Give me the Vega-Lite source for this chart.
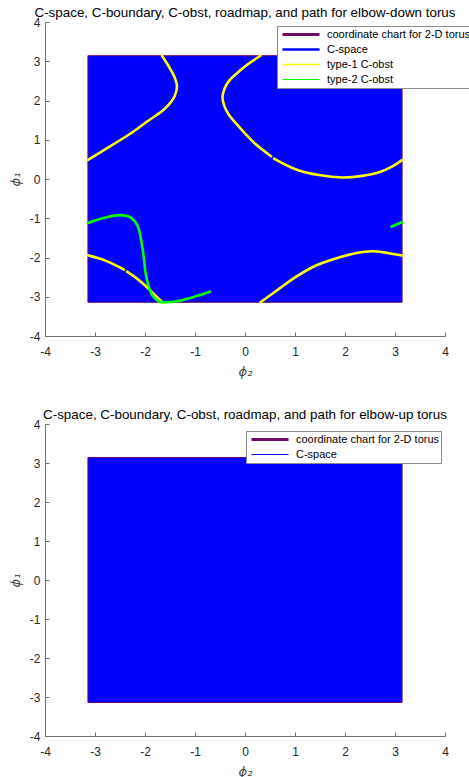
{
  "$schema": "https://vega.github.io/schema/vega-lite/v6.json",
  "padding": {"left": 9, "top": 5, "right": 0, "bottom": 0},
  "datasets": {
    "box": [
      {"series": "C-space", "x1": -3.1416, "x2": 3.1416, "y1": -3.1416, "y2": 3.1416},
      {"series": "coordinate chart for 2-D torus", "x1": -3.1416, "x2": 3.1416, "y1": -3.1416, "y2": 3.1416}
    ],
    "curves": [
      {"series": "type-1 C-obst", "seg": "A", "i": 0, "phi2": -1.66, "phi1": 3.14},
      {"series": "type-1 C-obst", "seg": "A", "i": 1, "phi2": -1.52, "phi1": 2.86},
      {"series": "type-1 C-obst", "seg": "A", "i": 2, "phi2": -1.41, "phi1": 2.6},
      {"series": "type-1 C-obst", "seg": "A", "i": 3, "phi2": -1.36, "phi1": 2.37},
      {"series": "type-1 C-obst", "seg": "A", "i": 4, "phi2": -1.41, "phi1": 2.1},
      {"series": "type-1 C-obst", "seg": "A", "i": 5, "phi2": -1.52, "phi1": 1.9},
      {"series": "type-1 C-obst", "seg": "A", "i": 6, "phi2": -1.65, "phi1": 1.74},
      {"series": "type-1 C-obst", "seg": "A", "i": 7, "phi2": -1.95, "phi1": 1.47},
      {"series": "type-1 C-obst", "seg": "A", "i": 8, "phi2": -2.25, "phi1": 1.19},
      {"series": "type-1 C-obst", "seg": "A", "i": 9, "phi2": -2.7, "phi1": 0.83},
      {"series": "type-1 C-obst", "seg": "A", "i": 10, "phi2": -3.14, "phi1": 0.49},
      {"series": "type-1 C-obst", "seg": "B1", "i": 0, "phi2": 0.31, "phi1": 3.14},
      {"series": "type-1 C-obst", "seg": "B1", "i": 1, "phi2": 0.01, "phi1": 2.88},
      {"series": "type-1 C-obst", "seg": "B1", "i": 2, "phi2": -0.12, "phi1": 2.74},
      {"series": "type-1 C-obst", "seg": "B1", "i": 3, "phi2": -0.32, "phi1": 2.5},
      {"series": "type-1 C-obst", "seg": "B1", "i": 4, "phi2": -0.41, "phi1": 2.3},
      {"series": "type-1 C-obst", "seg": "B1", "i": 5, "phi2": -0.45, "phi1": 2.08},
      {"series": "type-1 C-obst", "seg": "B1", "i": 6, "phi2": -0.41, "phi1": 1.85},
      {"series": "type-1 C-obst", "seg": "B1", "i": 7, "phi2": -0.32, "phi1": 1.63},
      {"series": "type-1 C-obst", "seg": "B1", "i": 8, "phi2": -0.18, "phi1": 1.42},
      {"series": "type-1 C-obst", "seg": "B1", "i": 9, "phi2": -0.05, "phi1": 1.23},
      {"series": "type-1 C-obst", "seg": "B1", "i": 10, "phi2": 0.21, "phi1": 0.89},
      {"series": "type-1 C-obst", "seg": "B1", "i": 11, "phi2": 0.52, "phi1": 0.58},
      {"series": "type-1 C-obst", "seg": "B2", "i": 0, "phi2": 0.58, "phi1": 0.52},
      {"series": "type-1 C-obst", "seg": "B2", "i": 1, "phi2": 1.01, "phi1": 0.25},
      {"series": "type-1 C-obst", "seg": "B2", "i": 2, "phi2": 1.48, "phi1": 0.1},
      {"series": "type-1 C-obst", "seg": "B2", "i": 3, "phi2": 1.95, "phi1": 0.04},
      {"series": "type-1 C-obst", "seg": "B2", "i": 4, "phi2": 2.35, "phi1": 0.08},
      {"series": "type-1 C-obst", "seg": "B2", "i": 5, "phi2": 2.68, "phi1": 0.17},
      {"series": "type-1 C-obst", "seg": "B2", "i": 6, "phi2": 2.95, "phi1": 0.32},
      {"series": "type-1 C-obst", "seg": "B2", "i": 7, "phi2": 3.14, "phi1": 0.48},
      {"series": "type-1 C-obst", "seg": "C1", "i": 0, "phi2": -3.14, "phi1": -1.94},
      {"series": "type-1 C-obst", "seg": "C1", "i": 1, "phi2": -2.79, "phi1": -2.08},
      {"series": "type-1 C-obst", "seg": "C1", "i": 2, "phi2": -2.55, "phi1": -2.22},
      {"series": "type-1 C-obst", "seg": "C1", "i": 3, "phi2": -2.42, "phi1": -2.31},
      {"series": "type-1 C-obst", "seg": "C2", "i": 0, "phi2": -2.36, "phi1": -2.36},
      {"series": "type-1 C-obst", "seg": "C2", "i": 1, "phi2": -2.2, "phi1": -2.5},
      {"series": "type-1 C-obst", "seg": "C2", "i": 2, "phi2": -1.99, "phi1": -2.72},
      {"series": "type-1 C-obst", "seg": "C2", "i": 3, "phi2": -1.79, "phi1": -2.97},
      {"series": "type-1 C-obst", "seg": "C2", "i": 4, "phi2": -1.65, "phi1": -3.14},
      {"series": "type-1 C-obst", "seg": "D", "i": 0, "phi2": 0.31, "phi1": -3.14},
      {"series": "type-1 C-obst", "seg": "D", "i": 1, "phi2": 0.68, "phi1": -2.8},
      {"series": "type-1 C-obst", "seg": "D", "i": 2, "phi2": 1.01, "phi1": -2.5},
      {"series": "type-1 C-obst", "seg": "D", "i": 3, "phi2": 1.41, "phi1": -2.21},
      {"series": "type-1 C-obst", "seg": "D", "i": 4, "phi2": 1.88, "phi1": -2.0},
      {"series": "type-1 C-obst", "seg": "D", "i": 5, "phi2": 2.21, "phi1": -1.89},
      {"series": "type-1 C-obst", "seg": "D", "i": 6, "phi2": 2.55, "phi1": -1.84},
      {"series": "type-1 C-obst", "seg": "D", "i": 7, "phi2": 2.88, "phi1": -1.89},
      {"series": "type-1 C-obst", "seg": "D", "i": 8, "phi2": 3.14, "phi1": -1.95},
      {"series": "type-2 C-obst", "seg": "E", "i": 0, "phi2": -3.14, "phi1": -1.12},
      {"series": "type-2 C-obst", "seg": "E", "i": 1, "phi2": -2.79, "phi1": -0.98},
      {"series": "type-2 C-obst", "seg": "E", "i": 2, "phi2": -2.49, "phi1": -0.92},
      {"series": "type-2 C-obst", "seg": "E", "i": 3, "phi2": -2.29, "phi1": -0.98},
      {"series": "type-2 C-obst", "seg": "E", "i": 4, "phi2": -2.15, "phi1": -1.19},
      {"series": "type-2 C-obst", "seg": "E", "i": 5, "phi2": -2.07, "phi1": -1.61},
      {"series": "type-2 C-obst", "seg": "E", "i": 6, "phi2": -2.02, "phi1": -2.04},
      {"series": "type-2 C-obst", "seg": "E", "i": 7, "phi2": -1.99, "phi1": -2.38},
      {"series": "type-2 C-obst", "seg": "E", "i": 8, "phi2": -1.93, "phi1": -2.72},
      {"series": "type-2 C-obst", "seg": "E", "i": 9, "phi2": -1.85, "phi1": -2.97},
      {"series": "type-2 C-obst", "seg": "E", "i": 10, "phi2": -1.72, "phi1": -3.12},
      {"series": "type-2 C-obst", "seg": "E", "i": 11, "phi2": -1.59, "phi1": -3.14},
      {"series": "type-2 C-obst", "seg": "E", "i": 12, "phi2": -1.32, "phi1": -3.1},
      {"series": "type-2 C-obst", "seg": "E", "i": 13, "phi2": -0.99, "phi1": -2.99},
      {"series": "type-2 C-obst", "seg": "E", "i": 14, "phi2": -0.7, "phi1": -2.87},
      {"series": "type-2 C-obst", "seg": "F", "i": 0, "phi2": 2.93, "phi1": -1.21},
      {"series": "type-2 C-obst", "seg": "F", "i": 1, "phi2": 3.14, "phi1": -1.1}
    ]
  },
  "vconcat": [
    {
      "title": "C-space, C-boundary, C-obst, roadmap, and path for elbow-down torus",
      "width": 400,
      "height": 314,
      "layer": [
        {
          "data": {"name": "box"},
          "transform": [{"filter": "datum.series === 'C-space'"}],
          "mark": {"type": "rect", "stroke": null},
          "encoding": {
            "x": {"field": "x1", "type": "quantitative", "scale": {"domain": [-4, 4], "nice": false, "zero": false}, "axis": {"values": [-4, -3, -2, -1, 0, 1, 2, 3, 4], "labelOverlap": false, "labelExpr": "'' + datum.value", "title": "ϕ₂"}},
            "x2": {"field": "x2"},
            "y": {"field": "y1", "type": "quantitative", "scale": {"domain": [-4, 4], "nice": false, "zero": false}, "axis": {"values": [-4, -3, -2, -1, 0, 1, 2, 3, 4], "labelOverlap": false, "labelExpr": "'' + datum.value", "title": "ϕ₁"}},
            "y2": {"field": "y2"},
            "color": {
              "field": "series", "type": "nominal",
              "scale": {"domain": ["coordinate chart for 2-D torus", "C-space", "type-1 C-obst", "type-2 C-obst"], "range": ["#700868", "#0000ff", "#ffff00", "#00ff00"]},
              "legend": {"orient": "none", "legendX": 232, "legendY": 4, "title": null}
            },
            "strokeWidth": {
              "field": "series", "type": "nominal",
              "scale": {"domain": ["coordinate chart for 2-D torus", "C-space", "type-1 C-obst", "type-2 C-obst"], "range": [3, 1, 1, 1]},
              "legend": {"orient": "none", "legendX": 232, "legendY": 4, "title": null}
            }
          }
        },
        {
          "data": {"name": "box"},
          "transform": [{"filter": "datum.series === 'coordinate chart for 2-D torus'"}],
          "mark": {"type": "rect", "filled": false, "strokeWidth": 1},
          "encoding": {
            "x": {"field": "x1", "type": "quantitative", "axis": {"values": [-4, -3, -2, -1, 0, 1, 2, 3, 4], "labelOverlap": false, "labelExpr": "'' + datum.value", "title": "ϕ₂"}},
            "x2": {"field": "x2"},
            "y": {"field": "y1", "type": "quantitative", "axis": {"values": [-4, -3, -2, -1, 0, 1, 2, 3, 4], "labelOverlap": false, "labelExpr": "'' + datum.value", "title": "ϕ₁"}},
            "y2": {"field": "y2"},
            "color": {"field": "series", "type": "nominal"}
          }
        },
        {
          "data": {"name": "curves"},
          "mark": {"type": "line", "strokeWidth": 2.6, "strokeCap": "round", "strokeJoin": "round", "interpolate": "catmull-rom"},
          "encoding": {
            "x": {"field": "phi2", "type": "quantitative", "axis": {"values": [-4, -3, -2, -1, 0, 1, 2, 3, 4], "labelOverlap": false, "labelExpr": "'' + datum.value", "title": "ϕ₂"}},
            "y": {"field": "phi1", "type": "quantitative", "axis": {"values": [-4, -3, -2, -1, 0, 1, 2, 3, 4], "labelOverlap": false, "labelExpr": "'' + datum.value", "title": "ϕ₁"}},
            "detail": {"field": "seg"},
            "order": {"field": "i"},
            "color": {"field": "series", "type": "nominal"}
          }
        }
      ]
    },
    {
      "title": "C-space, C-boundary, C-obst, roadmap, and path for elbow-up torus",
      "width": 400,
      "height": 312,
      "layer": [
        {
          "data": {"name": "box"},
          "transform": [{"filter": "datum.series === 'C-space'"}],
          "mark": {"type": "rect", "stroke": null},
          "encoding": {
            "x": {"field": "x1", "type": "quantitative", "scale": {"domain": [-4, 4], "nice": false, "zero": false}, "axis": {"values": [-4, -3, -2, -1, 0, 1, 2, 3, 4], "labelOverlap": false, "labelExpr": "'' + datum.value", "title": "ϕ₂"}},
            "x2": {"field": "x2"},
            "y": {"field": "y1", "type": "quantitative", "scale": {"domain": [-4, 4], "nice": false, "zero": false}, "axis": {"values": [-4, -3, -2, -1, 0, 1, 2, 3, 4], "labelOverlap": false, "labelExpr": "'' + datum.value", "title": "ϕ₁"}},
            "y2": {"field": "y2"},
            "color": {
              "field": "series", "type": "nominal",
              "scale": {"domain": ["coordinate chart for 2-D torus", "C-space"], "range": ["#700868", "#0000ff"]},
              "legend": {"orient": "none", "legendX": 201, "legendY": 7, "title": null}
            },
            "strokeWidth": {
              "field": "series", "type": "nominal",
              "scale": {"domain": ["coordinate chart for 2-D torus", "C-space"], "range": [3, 1]},
              "legend": {"orient": "none", "legendX": 201, "legendY": 7, "title": null}
            }
          }
        },
        {
          "data": {"name": "box"},
          "transform": [{"filter": "datum.series === 'coordinate chart for 2-D torus'"}],
          "mark": {"type": "rect", "filled": false, "strokeWidth": 1},
          "encoding": {
            "x": {"field": "x1", "type": "quantitative", "axis": {"values": [-4, -3, -2, -1, 0, 1, 2, 3, 4], "labelOverlap": false, "labelExpr": "'' + datum.value", "title": "ϕ₂"}},
            "x2": {"field": "x2"},
            "y": {"field": "y1", "type": "quantitative", "axis": {"values": [-4, -3, -2, -1, 0, 1, 2, 3, 4], "labelOverlap": false, "labelExpr": "'' + datum.value", "title": "ϕ₁"}},
            "y2": {"field": "y2"},
            "color": {"field": "series", "type": "nominal"}
          }
        }
      ]
    }
  ],
  "spacing": 29,
  "resolve": {"scale": {"color": "independent", "strokeWidth": "independent", "x": "independent", "y": "independent"}, "legend": {"color": "independent", "strokeWidth": "independent"}},
  "config": {
    "font": "Liberation Sans",
    "view": {"stroke": null},
    "title": {"fontSize": 13.4, "fontWeight": "normal", "color": "#000000", "offset": -3, "baseline": "alphabetic", "anchor": "middle", "font": "Liberation Sans"},
    "axis": {
      "grid": false,
      "domainColor": "#6e6e6e",
      "tickColor": "#6e6e6e",
      "tickSize": -4,
      "labelOverlap": false,
      "labelFont": "Liberation Sans",
      "labelFontSize": 12,
      "labelColor": "#262626",
      "titleFont": "DejaVu Sans",
      "titleFontSize": 13,
      "titleFontWeight": "normal",
      "titleColor": "#444444",
      "titleFontStyle": "italic"
    },
    "axisY": {"labelPadding": 9, "titlePadding": 7},
    "axisX": {"labelPadding": 14, "titlePadding": 8, "labelFlush": false},
    "legend": {
      "labelFont": "Liberation Sans",
      "labelFontSize": 11,
      "labelColor": "#000000",
      "fillColor": "#ffffff",
      "strokeColor": "#8a8a8a",
      "strokeWidth": 1,
      "padding": 1,
      "rowPadding": 0,
      "clipHeight": 15,
      "symbolSize": 1369,
      "symbolOffset": 3,
      "labelOffset": 6,
      "cornerRadius": 0,
      "symbolType": "stroke"
    }
  }
}
